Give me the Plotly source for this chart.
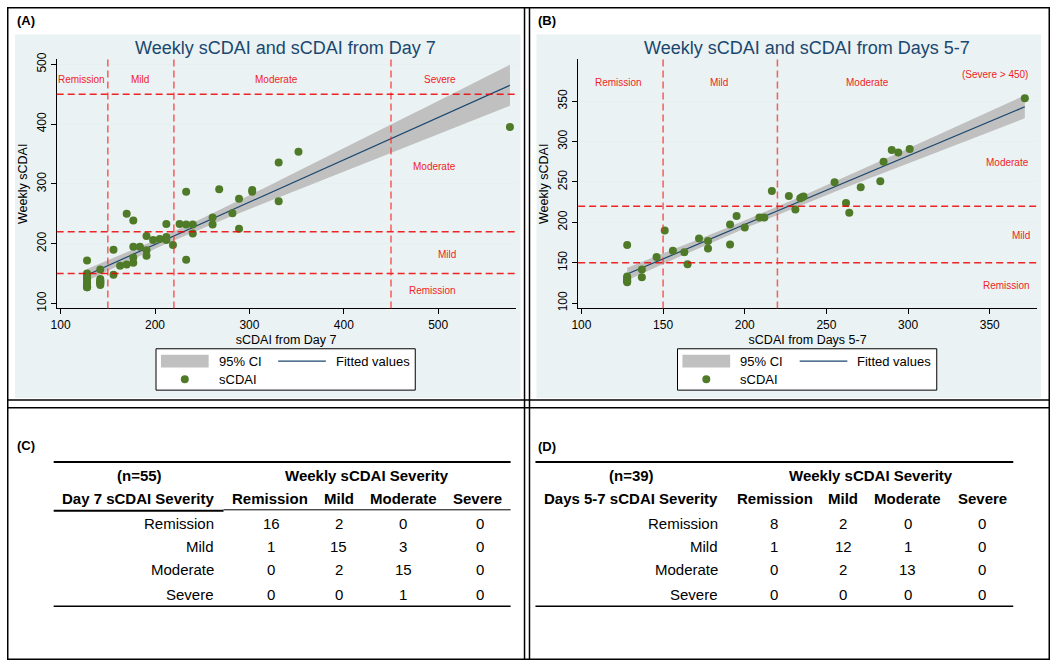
import numpy as np
import plotly.graph_objects as go

W, H = 1050, 663

# panel A: sCDAI from Day 7 (x) vs weekly sCDAI (y)
day7_x = [128, 128, 128, 128, 128, 128, 128, 128, 128, 128, 128,
          142, 142, 142, 142, 142, 142, 142,
          156, 156, 163, 170, 170, 177, 177, 177, 177, 184, 191, 191, 191, 198, 205, 212, 212, 212, 219,
          226, 233, 233, 233, 240, 240, 261, 261, 268, 282, 289, 289, 303, 303, 331, 331, 352, 576]
day7_y = [172, 150, 146, 140, 133, 129, 127, 131, 135, 143, 127,
          157, 141, 137, 133, 135, 138, 131,
          190, 148, 163, 165, 250, 239, 195, 177, 168, 195, 213, 189, 180, 206, 208, 211, 206, 233, 198,
          233, 232, 173, 287, 232, 217, 244, 232, 291, 251, 225, 275, 290, 287, 336, 271, 354, 395]

# panel B: sCDAI from Days 5-7 (x) vs weekly sCDAI (y)
days57_x = [128, 128, 128, 128, 128, 128, 128, 137, 137, 146, 151, 156, 163, 165, 172, 177.5, 177.5,
            191, 191, 195, 200, 209, 212, 216.6, 227, 231, 234, 235, 236, 255, 262, 264, 271,
            283, 285, 290, 294, 301, 371.5]
days57_y = [172, 133, 130, 128, 126, 131, 127, 141.5, 132, 157, 190, 165, 163, 148, 180, 177, 167.5,
            197.5, 172.5, 208, 193.5, 206, 206, 238.7, 232.6, 216, 230, 231, 232, 249.6, 224, 212, 243.5,
            251, 275, 289.5, 286.6, 290.7, 353.7]

# cross tabulations
sev_labels = ["Remission", "Mild", "Moderate", "Severe"]
tab_c = [[16, 2, 0, 0], [1, 15, 3, 0], [0, 2, 15, 0], [0, 0, 1, 0]]
tab_d = [[8, 2, 0, 0], [1, 12, 1, 0], [0, 2, 13, 0], [0, 0, 0, 0]]

cutoffs = [150, 220, 450]
T95 = {"A": 2.006, "B": 2.026}

NAVY = "#1a476f"
GREEN = "#4f7a28"
CIGRAY = "#c0c0c0"
RED = "#f01e1e"
FONT = "Arial, Liberation Sans, sans-serif"


def px(x):
    return x / W


def py(y):
    return 1 - y / H


def fitci(x, y, t):
    x = np.asarray(x, float)
    y = np.asarray(y, float)
    b, a = np.polyfit(x, y, 1)
    n = len(x)
    resid = y - (a + b * x)
    s = np.sqrt((resid ** 2).sum() / (n - 2))
    sxx = ((x - x.mean()) ** 2).sum()
    xs = np.linspace(x.min(), x.max(), 100)
    yh = a + b * xs
    se = s * np.sqrt(1 / n + (xs - x.mean()) ** 2 / sxx)
    return xs, yh, yh - t * se, yh + t * se


fig = go.Figure()

for key, xv, yv, xa, ya in [("A", day7_x, day7_y, "x", "y"), ("B", days57_x, days57_y, "x2", "y2")]:
    xs, yh, lo, hi = fitci(xv, yv, T95[key])
    fig.add_trace(go.Scatter(
        x=np.concatenate([xs, xs[::-1]]), y=np.concatenate([hi, lo[::-1]]),
        fill="toself", fillcolor=CIGRAY, line=dict(width=0), mode="lines",
        hoverinfo="skip", showlegend=False, xaxis=xa, yaxis=ya))
    fig.add_trace(go.Scatter(
        x=xs, y=yh, mode="lines", line=dict(color=NAVY, width=1.2),
        showlegend=False, xaxis=xa, yaxis=ya))
    fig.add_trace(go.Scatter(
        x=xv, y=yv, mode="markers", marker=dict(color=GREEN, size=8),
        showlegend=False, xaxis=xa, yaxis=ya))

shapes = []
annotations = []

# grey graph regions
for x0, x1 in [(8, 517), (533, 1041)]:
    shapes.append(dict(type="rect", xref="paper", yref="paper", x0=px(x0), x1=px(x1),
                       y0=py(397), y1=py(28), fillcolor="#eaf2f3", line=dict(width=0), layer="below"))

# red cut-off lines
dash = "7px,4px"
for xa, ya, cuts in [("x", "y", cutoffs), ("x2", "y2", cutoffs[:2])]:
    for c in cuts:
        shapes.append(dict(type="line", xref=xa, yref=ya + " domain", x0=c, x1=c, y0=0, y1=1,
                           line=dict(color="rgba(255,40,40,0.75)", width=1.5, dash=dash)))
        shapes.append(dict(type="line", xref=xa + " domain", yref=ya, x0=0, x1=1, y0=c, y1=c,
                           line=dict(color="rgba(240,0,0,0.85)", width=1.5, dash=dash)))

# red region labels
red_a = [("Remission", 122, 474), ("Mild", 184, 474), ("Moderate", 329, 474), ("Severe", 502, 474),
         ("Moderate", 496, 329), ("Mild", 509, 182), ("Remission", 494, 121)]
red_b = [("Remission", 123, 373.7), ("Mild", 184, 373.7), ("Moderate", 275, 373.7),
         ("(Severe > 450)", 353.5, 383.4), ("Moderate", 361, 273.7), ("Mild", 369, 183.4),
         ("Remission", 360, 122.4)]
for labels, xa, ya in [(red_a, "x", "y"), (red_b, "x2", "y2")]:
    for txt, xx, yy in labels:
        annotations.append(dict(text=txt, x=xx, y=yy, xref=xa, yref=ya, showarrow=False,
                                font=dict(color=RED, size=10, family=FONT)))

# titles
for txt, cx in [("Weekly sCDAI and sCDAI from Day 7", 280), ("Weekly sCDAI and sCDAI from Days 5-7", 805)]:
    annotations.append(dict(text=txt, x=px(cx), y=py(42), xref="paper", yref="paper", showarrow=False,
                            xanchor="center", yanchor="middle", font=dict(color=NAVY, size=18, family=FONT)))

# panel letters
for txt, xx, yy in [("(A)", 8, 14), ("(B)", 533, 14), ("(C)", 8, 445), ("(D)", 533, 446)]:
    annotations.append(dict(text="<b>%s</b>" % txt, x=px(xx), y=py(yy), xref="paper", yref="paper",
                            showarrow=False, xanchor="left", yanchor="middle",
                            font=dict(color="black", size=13, family=FONT)))

# legends
for off in [0, 525]:
    shapes.append(dict(type="rect", xref="paper", yref="paper", x0=px(150 + off), x1=px(411 + off),
                       y0=py(389), y1=py(347), fillcolor="white", line=dict(color="black", width=1)))
    shapes.append(dict(type="rect", xref="paper", yref="paper", x0=px(155 + off), x1=px(203 + off),
                       y0=py(366), y1=py(353), fillcolor=CIGRAY, line=dict(width=0)))
    shapes.append(dict(type="line", xref="paper", yref="paper", x0=px(273 + off), x1=px(321 + off),
                       y0=py(359.5), y1=py(359.5), line=dict(color=NAVY, width=1.2)))
    shapes.append(dict(type="circle", xref="paper", yref="paper", x0=px(175 + off), x1=px(183 + off),
                       y0=py(382), y1=py(374), fillcolor=GREEN, line=dict(width=0)))
    for txt, xx, yy in [("95% CI", 211, 360), ("Fitted values", 329, 360), ("sCDAI", 211, 378)]:
        annotations.append(dict(text=txt, x=px(xx + off), y=py(yy), xref="paper", yref="paper",
                                showarrow=False, xanchor="left", yanchor="middle",
                                font=dict(color="black", size=13, family=FONT)))

# tables
tables = [
    dict(tab=tab_c, n="(n=55)", rowhead="Day 7 sCDAI Severity", x0=47, x1=507, ncx=133, wcx=362,
         rhx=132, colx=[266, 334, 399, 476], hcolx=[265, 334, 399, 474], labx=210, subline=True),
    dict(tab=tab_d, n="(n=39)", rowhead="Days 5-7 sCDAI Severity", x0=532, x1=1013, ncx=629, wcx=870,
         rhx=628, colx=[772, 842, 907, 982], hcolx=[773, 842, 907, 982], labx=718, subline=False),
]
row_y = [524, 547.5, 571.5, 596]
for t in tables:
    bold = dict(color="black", size=15, family=FONT)
    reg = dict(color="black", size=15, family=FONT)
    shapes.append(dict(type="line", xref="paper", yref="paper", x0=px(t["x0"]), x1=px(t["x1"]),
                       y0=py(462), y1=py(462), line=dict(color="black", width=2)))
    shapes.append(dict(type="line", xref="paper", yref="paper", x0=px(t["x0"]), x1=px(t["x1"]),
                       y0=py(608.5), y1=py(608.5), line=dict(color="black", width=1.5)))
    if t["subline"]:
        shapes.append(dict(type="line", xref="paper", yref="paper", x0=px(t["x0"]), x1=px(218),
                           y0=py(511.5), y1=py(511.5), line=dict(color="black", width=2)))
        shapes.append(dict(type="line", xref="paper", yref="paper", x0=px(218), x1=px(t["x1"]),
                           y0=py(510.5), y1=py(510.5), line=dict(color="black", width=1)))
    for txt, xx in [(t["n"], t["ncx"]), ("Weekly sCDAI Severity", t["wcx"])]:
        annotations.append(dict(text="<b>%s</b>" % txt, x=px(xx), y=py(476), xref="paper", yref="paper",
                                showarrow=False, xanchor="center", yanchor="middle", font=bold))
    for txt, xx in [(t["rowhead"], t["rhx"])] + list(zip(sev_labels, t["hcolx"])):
        annotations.append(dict(text="<b>%s</b>" % txt, x=px(xx), y=py(499), xref="paper", yref="paper",
                                showarrow=False, xanchor="center", yanchor="middle", font=bold))
    for i, lab in enumerate(sev_labels):
        annotations.append(dict(text=lab, x=px(t["labx"]), y=py(row_y[i]), xref="paper", yref="paper",
                                showarrow=False, xanchor="right", yanchor="middle", font=reg))
        for j, v in enumerate(t["tab"][i]):
            annotations.append(dict(text=str(v), x=px(t["colx"][j]), y=py(row_y[i]), xref="paper",
                                    yref="paper", showarrow=False, xanchor="center", yanchor="middle",
                                    font=reg))

# black frame and dividers
shapes.append(dict(type="rect", xref="paper", yref="paper", x0=px(0.75), x1=px(1049.25),
                   y0=py(662.25), y1=py(0.75), line=dict(color="black", width=1.5)))
for xx in [521, 526]:
    shapes.append(dict(type="line", xref="paper", yref="paper", x0=px(xx), x1=px(xx), y0=0, y1=1,
                       line=dict(color="black", width=1.5)))
for yy in [399, 407]:
    shapes.append(dict(type="line", xref="paper", yref="paper", x0=0, x1=1, y0=py(yy), y1=py(yy),
                       line=dict(color="black", width=1.5)))

axis_common = dict(showline=True, linecolor="black", linewidth=1, ticks="outside", ticklen=5,
                   tickcolor="black", zeroline=False, tickfont=dict(size=12, color="black", family=FONT),
                   title_font=dict(size=12.5, color="black", family=FONT))

fig.update_layout(
    width=W, height=H,
    margin=dict(l=0, r=0, t=0, b=0),
    paper_bgcolor="white", plot_bgcolor="white",
    showlegend=False,
    font=dict(family=FONT),
    xaxis=dict(domain=[px(50), px(512)], range=[95.8, 582], tickvals=[100, 200, 300, 400, 500],
               showgrid=False, anchor="y", title=dict(text="sCDAI from Day 7", standoff=4), **axis_common),
    yaxis=dict(domain=[py(306), py(53)], range=[91.8, 508.6], tickvals=[100, 200, 300, 400, 500],
               tickangle=-90, showgrid=True, gridcolor="#e6eff1", anchor="x",
               title=dict(text="Weekly sCDAI", standoff=4), **axis_common),
    xaxis2=dict(domain=[px(575), px(1037)], range=[98, 379], tickvals=[100, 150, 200, 250, 300, 350],
                showgrid=False, anchor="y2", title=dict(text="sCDAI from Days 5-7", standoff=4), **axis_common),
    yaxis2=dict(domain=[py(306), py(53)], range=[93.5, 402], tickvals=[100, 150, 200, 250, 300, 350],
                tickangle=-90, showgrid=True, gridcolor="#e6eff1", anchor="x2",
                title=dict(text="Weekly sCDAI", standoff=4), **axis_common),
    shapes=shapes,
    annotations=annotations,
)

fig.write_html("out.html", config={"displayModeBar": False},
               post_script="document.body.style.margin='0';")
